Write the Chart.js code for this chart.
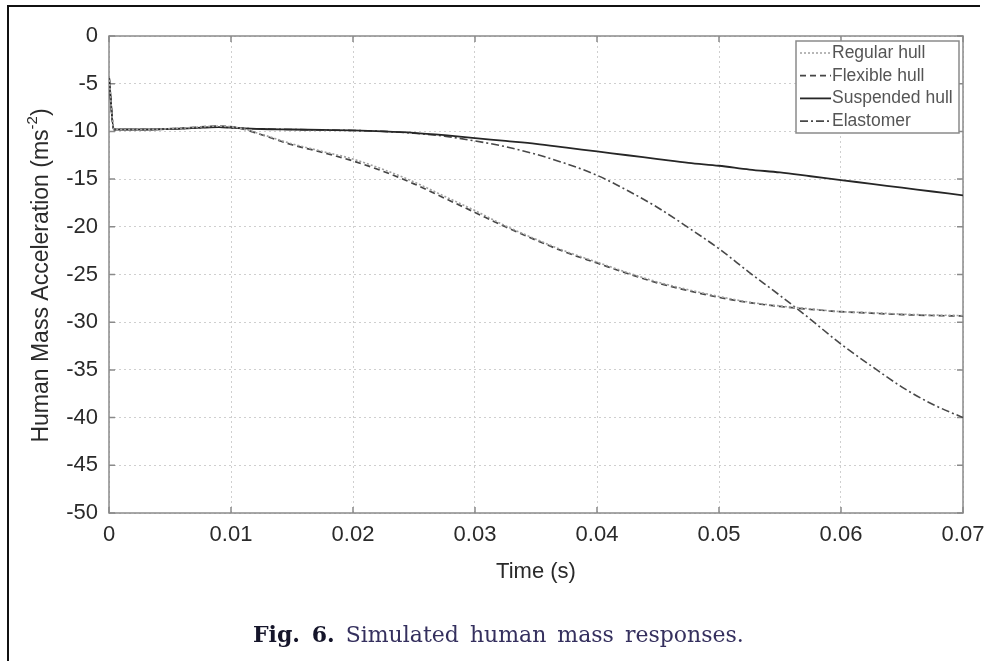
<!DOCTYPE html>
<html>
<head>
<meta charset="utf-8">
<script src="https://cdn.jsdelivr.net/npm/chart.js@4"></script>
<style>
  body { margin: 0; background: #fff; }
  #wrap { position: relative; width: 988px; height: 661px; overflow: hidden; }
  #frame {
    position: absolute; left: 7px; top: 5px; width: 971px; height: 700px;
    border-top: 2px solid #111; border-left: 2px solid #111;
  }
  #chart { position: absolute; left: 0; top: 0; }
  #caption {
    position: absolute; left: 253px; top: 621px;
    font-family: "DejaVu Serif", "Liberation Serif", serif; font-size: 22px;
    color: #35305e; white-space: nowrap; word-spacing: 4px;
  }
  #caption b { color: #15152a; }
</style>
</head>
<body>
<div id="wrap">
  <div id="frame"></div>
  <canvas id="chart" width="988" height="661"></canvas>
  <div id="caption"><b>Fig. 6.</b> Simulated human mass responses.</div>
</div>
<script>
// time samples (s)
const times = [0, 0.0004, 0.003, 0.006, 0.009, 0.0105, 0.0125, 0.015, 0.0175, 0.02,
  0.0225, 0.025, 0.0275, 0.03, 0.0325, 0.035, 0.0375, 0.04, 0.0425, 0.045,
  0.0475, 0.05, 0.0525, 0.055, 0.0575, 0.06, 0.0625, 0.065, 0.0675, 0.07];

// acceleration (m/s^2) per hull type
const regularHull = [-4.2, -9.8, -9.8, -9.65, -9.45, -9.6, -10.3, -11.3, -12.1, -12.9,
  -14.0, -15.3, -16.8, -18.3, -19.9, -21.3, -22.6, -23.7, -24.8, -25.8,
  -26.6, -27.3, -27.9, -28.3, -28.6, -28.9, -29.0, -29.15, -29.25, -29.3];
const flexibleHull = [-4.2, -9.8, -9.8, -9.65, -9.45, -9.6, -10.35, -11.4, -12.2, -13.1,
  -14.2, -15.5, -17.0, -18.5, -20.0, -21.4, -22.7, -23.8, -24.9, -25.9,
  -26.7, -27.4, -27.95, -28.35, -28.65, -28.9, -29.05, -29.2, -29.3, -29.35];
const suspendedHull = [-4.2, -9.8, -9.8, -9.7, -9.55, -9.65, -9.75, -9.8, -9.85, -9.9,
  -10.0, -10.15, -10.4, -10.7, -11.0, -11.3, -11.7, -12.1, -12.5, -12.9,
  -13.3, -13.6, -14.0, -14.3, -14.7, -15.1, -15.5, -15.9, -16.3, -16.7];
const elastomer = [-4.2, -9.8, -9.8, -9.7, -9.55, -9.65, -9.75, -9.8, -9.85, -9.9,
  -10.0, -10.2, -10.5, -11.0, -11.6, -12.4, -13.4, -14.6, -16.2, -18.0,
  -20.1, -22.3, -24.8, -27.2, -29.7, -32.3, -34.6, -36.8, -38.6, -40.0];

const seriesNames = ["Regular hull", "Flexible hull", "Suspended hull", "Elastomer"];
const xTicks = [0, 0.01, 0.02, 0.03, 0.04, 0.05, 0.06, 0.07];
const yTicks = [0, -5, -10, -15, -20, -25, -30, -35, -40, -45, -50];

const textColor = "#2a2a2a";
const sansFamily = "'Liberation Sans', Arial, sans-serif";
const axisFont = { family: sansFamily, size: 22 };

function toPoints(values) {
  return values.map((v, i) => ({ x: times[i], y: v }));
}

// matlab-like box with small inward ticks on all four sides
const boxTicks = {
  id: "boxTicks",
  beforeDatasetsDraw(chart) {
    const { ctx, chartArea: a, scales } = chart;
    ctx.save();
    ctx.strokeStyle = "#8a8a8a";
    ctx.lineWidth = 1.5;
    ctx.strokeRect(a.left, a.top, a.right - a.left, a.bottom - a.top);
    ctx.beginPath();
    xTicks.forEach(v => {
      const px = scales.x.getPixelForValue(v);
      ctx.moveTo(px, a.bottom); ctx.lineTo(px, a.bottom - 6);
      ctx.moveTo(px, a.top); ctx.lineTo(px, a.top + 6);
    });
    yTicks.forEach(v => {
      const py = scales.y.getPixelForValue(v);
      ctx.moveTo(a.left, py); ctx.lineTo(a.left + 6, py);
      ctx.moveTo(a.right, py); ctx.lineTo(a.right - 6, py);
    });
    ctx.stroke();
    ctx.restore();
  }
};

// y axis title with a real superscript
const yTitle = {
  id: "yTitle",
  afterDraw(chart) {
    const { ctx, chartArea: a } = chart;
    const main = "Human Mass Acceleration (ms";
    const sup = "-2";
    const tail = ")";
    const big = "23px " + sansFamily;
    const small = "15px " + sansFamily;
    ctx.save();
    ctx.translate(42, (a.top + a.bottom) / 2 + 1);
    ctx.rotate(-Math.PI / 2);
    ctx.fillStyle = textColor;
    ctx.textBaseline = "middle";
    ctx.font = big;
    const w1 = ctx.measureText(main).width;
    const w3 = ctx.measureText(tail).width;
    ctx.font = small;
    const w2 = ctx.measureText(sup).width;
    let x = -(w1 + w2 + w3) / 2;
    ctx.font = big;
    ctx.fillText(main, x, 0);
    x += w1;
    ctx.font = small;
    ctx.fillText(sup, x, -9);
    x += w2;
    ctx.font = big;
    ctx.fillText(tail, x, 0);
    ctx.restore();
  }
};

// boxed legend in the top right corner
const boxLegend = {
  id: "boxLegend",
  afterDraw(chart) {
    const { ctx } = chart;
    const left = 796, top = 41, width = 163, height = 92;
    ctx.save();
    ctx.fillStyle = "#fff";
    ctx.fillRect(left, top, width, height);
    ctx.strokeStyle = "#8a8a8a";
    ctx.lineWidth = 1.5;
    ctx.strokeRect(left, top, width, height);
    ctx.font = "17.5px " + sansFamily;
    ctx.textBaseline = "middle";
    chart.data.datasets.forEach((ds, i) => {
      const y = top + 12 + i * 22.7;
      ctx.strokeStyle = ds.borderColor;
      ctx.lineWidth = ds.borderWidth;
      ctx.setLineDash(ds.borderDash || []);
      ctx.beginPath();
      ctx.moveTo(left + 4, y);
      ctx.lineTo(left + 35, y);
      ctx.stroke();
      ctx.setLineDash([]);
      ctx.fillStyle = "#555";
      ctx.fillText(ds.label, left + 36, y);
    });
    ctx.restore();
  }
};

const styles = [
  { color: "#a0a0a0", dash: [2, 2], width: 1.6 },
  { color: "#454545", dash: [6, 4], width: 1.7 },
  { color: "#262626", dash: [], width: 1.8 },
  { color: "#484848", dash: [8, 3, 2, 3], width: 1.6 }
];
const seriesValues = [regularHull, flexibleHull, suspendedHull, elastomer];

const ctx = document.getElementById("chart").getContext("2d");

new Chart(ctx, {
  type: "line",
  data: {
    datasets: seriesValues.map((vals, i) => ({
      label: seriesNames[i],
      data: toPoints(vals),
      borderColor: styles[i].color,
      borderDash: styles[i].dash,
      borderWidth: styles[i].width,
      pointRadius: 0,
      fill: false,
      cubicInterpolationMode: "monotone"
    }))
  },
  options: {
    responsive: false,
    animation: false,
    layout: { padding: { left: 30, top: 36, right: 25, bottom: 68 } },
    plugins: {
      legend: { display: false },
      tooltip: { enabled: false }
    },
    scales: {
      x: {
        type: "linear",
        min: 0,
        max: 0.07,
        afterBuildTicks: scale => { scale.ticks = xTicks.map(v => ({ value: v })); },
        afterFit: scale => {
          scale.height = 80;
          scale.paddingLeft = 0;
          scale.paddingRight = 0;
        },
        grid: { color: "#cfcfcf", borderDash: [2, 3], drawTicks: false },
        border: { display: false, dash: [2, 3] },
        ticks: {
          color: textColor,
          font: axisFont,
          padding: 9,
          maxRotation: 0,
          callback: v => (v === 0 ? "0" : v.toFixed(2))
        },
        title: {
          display: true,
          text: "Time (s)",
          color: textColor,
          font: axisFont,
          padding: { top: 0, bottom: 8 }
        }
      },
      y: {
        min: -50,
        max: 0,
        afterBuildTicks: scale => { scale.ticks = yTicks.map(v => ({ value: v })); },
        afterFit: scale => {
          scale.width = 79;
          scale.paddingTop = 0;
          scale.paddingBottom = 0;
        },
        grid: { color: "#cfcfcf", drawTicks: false },
        border: { display: false, dash: [2, 3] },
        ticks: {
          color: textColor,
          font: axisFont,
          padding: 11,
          callback: v => String(v)
        }
      }
    }
  },
  plugins: [boxTicks, yTitle, boxLegend]
});
</script>
</body>
</html>
